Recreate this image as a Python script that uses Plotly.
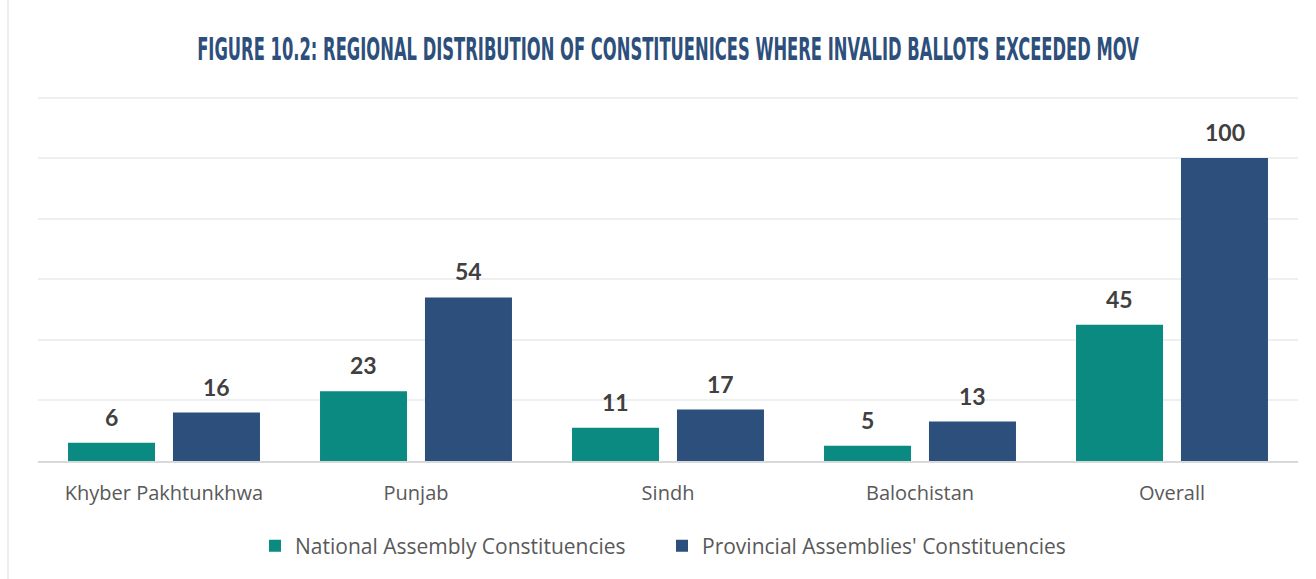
import plotly.graph_objects as go

regions = ["Khyber Pakhtunkhwa", "Punjab", "Sindh", "Balochistan", "Overall"]
national = [6, 23, 11, 5, 45]
provincial = [16, 54, 17, 13, 100]

TEAL = "#0a8a80"
NAVY = "#2d4f7b"
LABEL_FONT = dict(family="Lato, Open Sans, sans-serif", size=23, color="#404040")
LEGEND_FONT = dict(family="Open Sans, sans-serif", size=21, color="#595959")
BAR_OFFSET = 52.5  # px from the category centre to each bar centre
PLOT_LEFT, PLOT_WIDTH = 38, 1260

fig = go.Figure()
fig.add_trace(go.Bar(
    x=regions, y=national, name="National Assembly Constituencies",
    marker=dict(color=TEAL, line=dict(width=0)), legend="legend",
))
fig.add_trace(go.Bar(
    x=regions, y=provincial, name="Provincial Assemblies' Constituencies",
    marker=dict(color=NAVY, line=dict(width=0)), legend="legend2",
))

# value labels sitting a little above each bar
for series, shift in ((national, -BAR_OFFSET), (provincial, BAR_OFFSET)):
    for region, value in zip(regions, series):
        fig.add_annotation(
            x=region, y=value, xref="x", yref="y",
            text=f"<b>{value}</b>", showarrow=False,
            xanchor="center", yanchor="bottom", xshift=shift, yshift=10,
            font=LABEL_FONT,
        )


def legend_at(px):
    return dict(
        orientation="h", x=(px - PLOT_LEFT) / PLOT_WIDTH, xanchor="left",
        y=-0.233, yanchor="middle", font=LEGEND_FONT,
        itemwidth=30, bgcolor="rgba(0,0,0,0)",
    )


fig.update_layout(
    width=1316, height=579,
    margin=dict(l=PLOT_LEFT, r=1316 - PLOT_LEFT - PLOT_WIDTH, t=96, b=116),
    paper_bgcolor="white", plot_bgcolor="white",
    barmode="group", bargap=0.167, bargroupgap=0.171,
    title=dict(
        text="<b>FIGURE 10.2: REGIONAL DISTRIBUTION OF CONSTITUENICES WHERE INVALID BALLOTS EXCEEDED MOV</b>",
        font=dict(family="DejaVu Sans Condensed, DejaVu Sans, sans-serif", size=20, color=NAVY),
        x=0.5, xanchor="center", y=0.915, yanchor="middle",
    ),
    xaxis=dict(
        showgrid=False, showline=True, linecolor="#d9d9d9", linewidth=2,
        ticks="", tickfont=dict(family="Open Sans, sans-serif", size=20, color="#595959"),
        ticklabelstandoff=13,
    ),
    yaxis=dict(
        range=[0, 120.5], dtick=20, showticklabels=False,
        showgrid=True, gridcolor="#efefef", gridwidth=2, zeroline=False,
    ),
    legend=legend_at(255),
    legend2=legend_at(662),
    showlegend=True,
)

# thin frame line along the left edge of the page
fig.add_shape(type="line", xref="paper", yref="paper",
              x0=-30 / PLOT_WIDTH, x1=-30 / PLOT_WIDTH, y0=-0.4, y1=1.3,
              line=dict(color="#eeeeee", width=2))

# narrow, tall headline lettering
squash_title = """
var gd = document.getElementById('{plot_id}');
function squashTitle() {
  var t = gd.querySelector('.gtitle');
  if (!t) return;
  t.removeAttribute('transform');
  var b = t.getBBox();
  var sx = 942 / b.width, sy = 1.6;
  var cx = b.x + b.width / 2 + 10, cy = b.y + b.height / 2;
  t.setAttribute('transform', 'translate(' + cx + ',' + cy + ') scale(' + sx + ',' + sy + ') translate(' + (-cx + 10) + ',' + (-cy) + ')');
}
squashTitle();
gd.on('plotly_afterplot', squashTitle);
"""

fig.write_html("out.html", post_script=squash_title)
